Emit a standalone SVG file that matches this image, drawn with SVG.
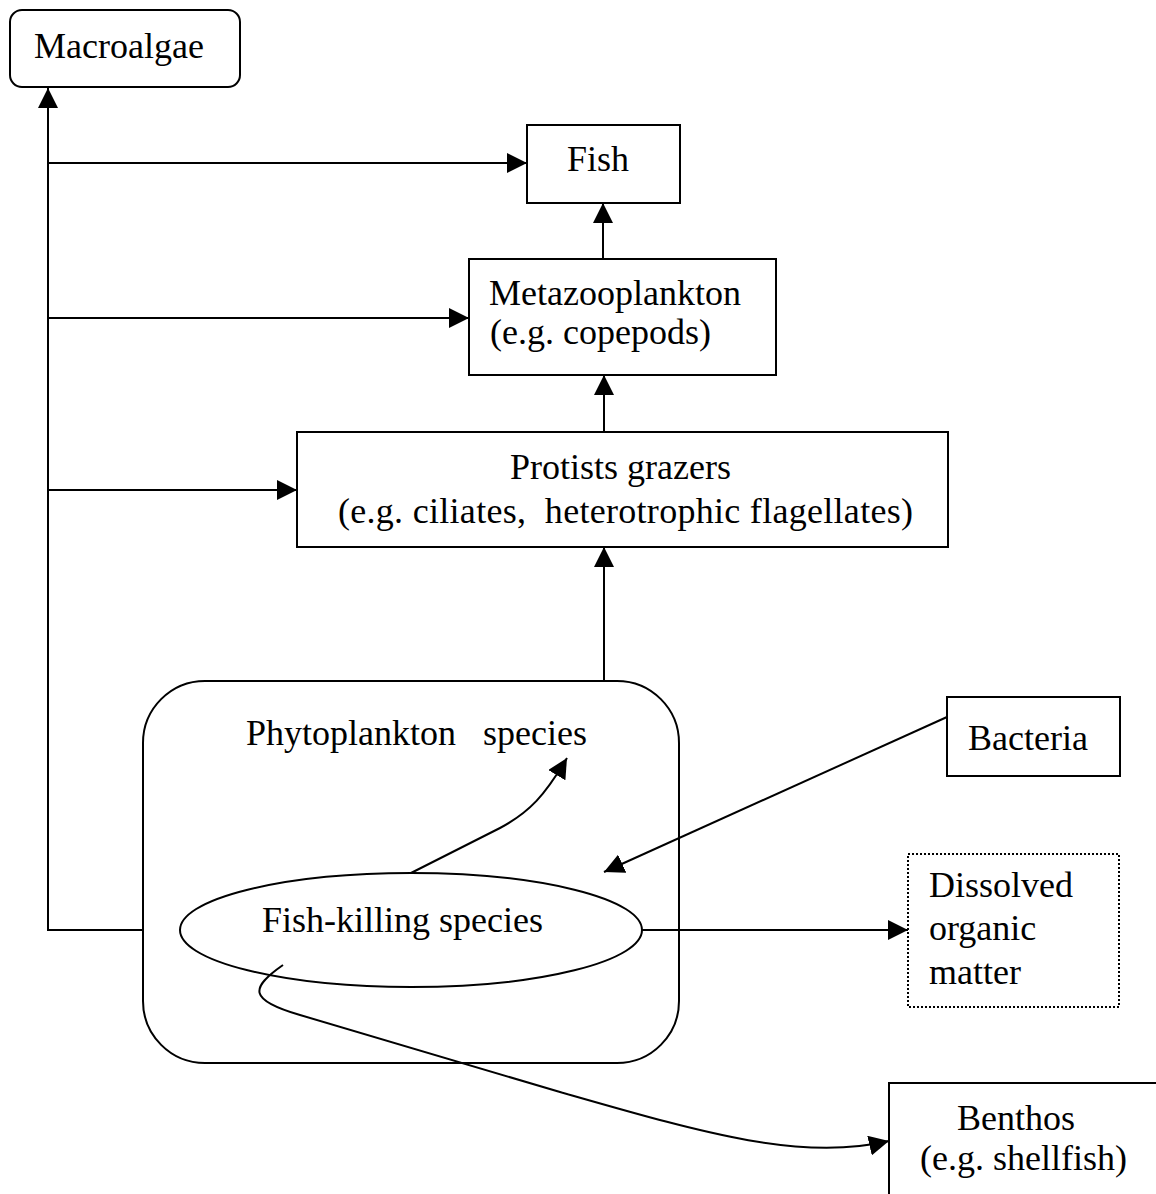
<svg xmlns="http://www.w3.org/2000/svg" width="1156" height="1194" viewBox="0 0 1156 1194">
<style>
.box{fill:#fff;stroke:#000;stroke-width:2}
.dot{fill:#fff;stroke:#000;stroke-width:2;stroke-dasharray:2 2}
.t{font-family:"Liberation Serif","Times New Roman",serif;font-size:36px;fill:#000;white-space:pre}
.c{fill:none;stroke:#000;stroke-width:2}
</style>
<defs>
<marker id="ah" viewBox="0 0 20 20" refX="20" refY="10" markerWidth="20" markerHeight="20" markerUnits="userSpaceOnUse" orient="auto">
<path d="M0,0 L20,10 L0,20 Z" fill="#000"/>
</marker>
</defs>
<rect width="1156" height="1194" fill="#fff"/>
<g id="macroalgae">
<rect class="box" x="10" y="10" width="230" height="77" rx="12"/>
<text class="t" x="34" y="58">Macroalgae</text>
</g>
<g id="fish">
<rect class="box" x="527" y="125" width="153" height="78"/>
<text class="t" x="567" y="171">Fish</text>
</g>
<g id="metazooplankton">
<rect class="box" x="469" y="259" width="307" height="116"/>
<text class="t" x="489" y="305">Metazooplankton</text>
<text class="t" x="490" y="344">(e.g. copepods)</text>
</g>
<g id="protists">
<rect class="box" x="297" y="432" width="651" height="115"/>
<text class="t" x="510" y="479">Protists grazers</text>
<text class="t" x="338" y="523" textLength="575" lengthAdjust="spacing">(e.g. ciliates,  heterotrophic flagellates)</text>
</g>
<g id="phytoplankton">
<rect class="box" x="143" y="681" width="536" height="382" rx="62"/>
<text class="t" x="246" y="745">Phytoplankton   species</text>
</g>
<g id="fishkilling">
<ellipse class="box" cx="411" cy="930" rx="231" ry="57"/>
<text class="t" x="262" y="932">Fish-killing species</text>
</g>
<g id="bacteria">
<rect class="box" x="947" y="697" width="173" height="79"/>
<text class="t" x="968" y="750">Bacteria</text>
</g>
<g id="dom">
<rect class="dot" x="908" y="854" width="211" height="153"/>
<text class="t" x="929" y="897">Dissolved</text>
<text class="t" x="929" y="940">organic</text>
<text class="t" x="929" y="984">matter</text>
</g>
<g id="benthos">
<rect class="box" x="889" y="1083" width="280" height="130"/>
<text class="t" x="957" y="1130">Benthos</text>
<text class="t" x="920" y="1170">(e.g. shellfish)</text>
</g>
<g id="connectors">
<path class="c" d="M143,930 H48 V88" marker-end="url(#ah)"/>
<path class="c" d="M48,163 H527" marker-end="url(#ah)"/>
<path class="c" d="M48,318 H469" marker-end="url(#ah)"/>
<path class="c" d="M48,490 H297" marker-end="url(#ah)"/>
<path class="c" d="M603,259 V203" marker-end="url(#ah)"/>
<path class="c" d="M604,432 V375" marker-end="url(#ah)"/>
<path class="c" d="M604,680 V547" marker-end="url(#ah)"/>
<path class="c" d="M642,930 H908" marker-end="url(#ah)"/>
<path class="c" d="M947,717 L604,872" marker-end="url(#ah)"/>
<path class="c" d="M411,873 L500,828 C530,812 545,795 567,758" marker-end="url(#ah)"/>
<path class="c" d="M283,965 C250,988 248,1000 300,1015 L560,1092 C700,1132 800,1162 889,1141" marker-end="url(#ah)"/>
</g>
</svg>
